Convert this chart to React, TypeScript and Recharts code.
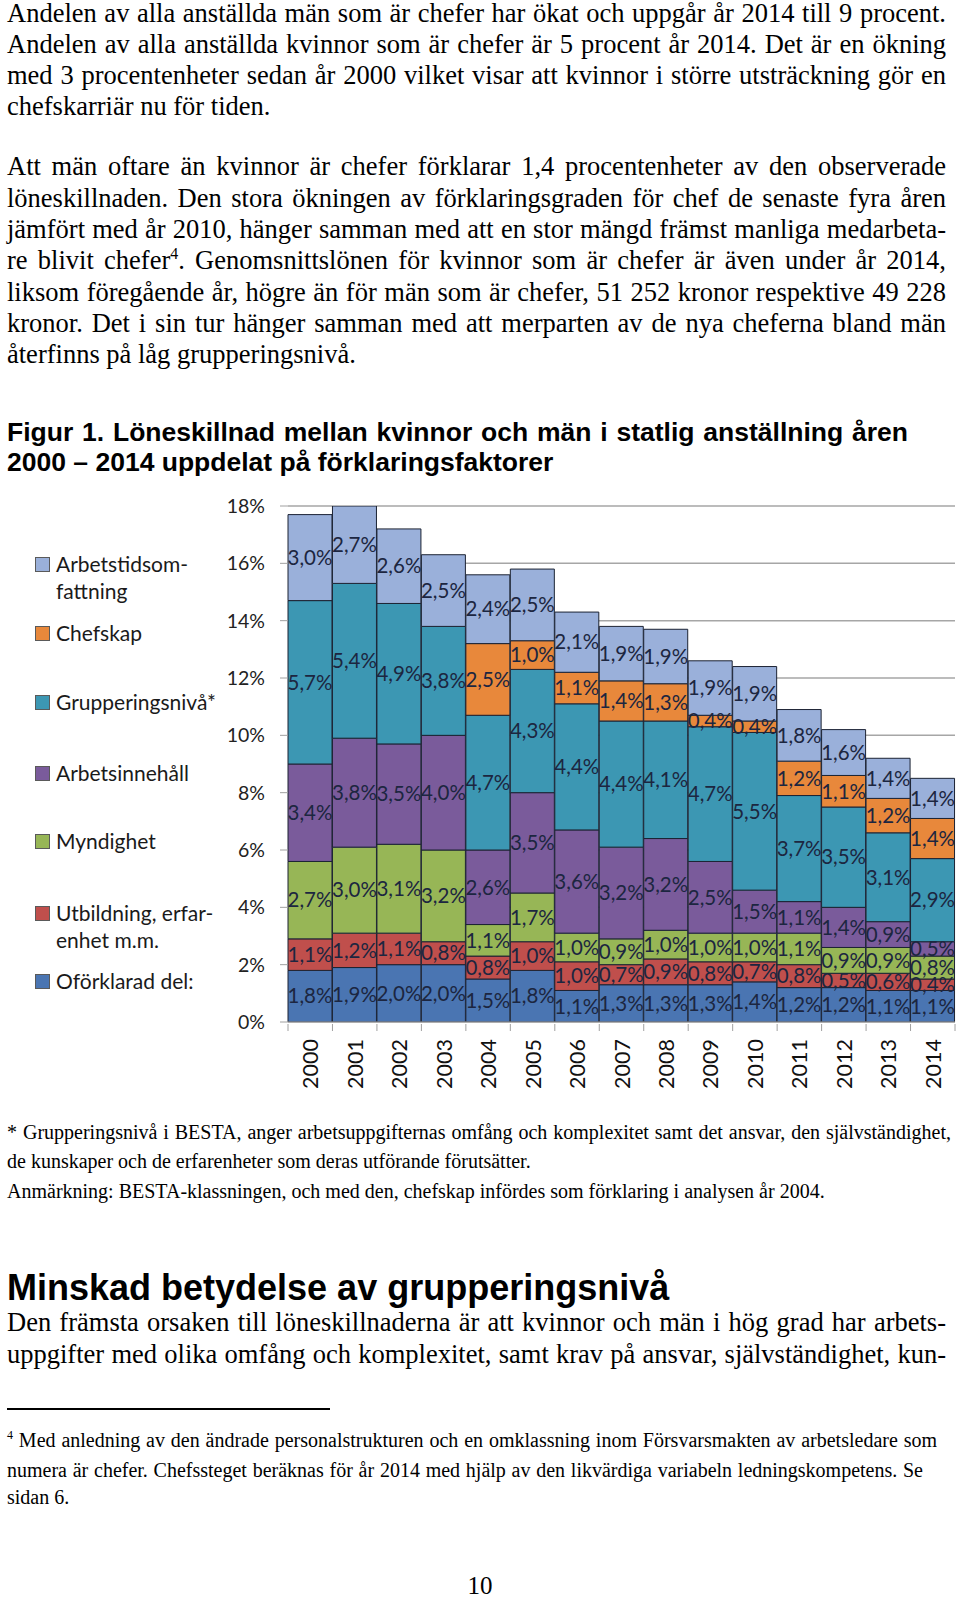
import React from 'react';
import { BarChart, Bar, XAxis, YAxis, CartesianGrid, LabelList } from 'recharts';

// values in procentenheter
const YEARS = ['2000', '2001', '2002', '2003', '2004', '2005', '2006', '2007', '2008', '2009', '2010', '2011', '2012', '2013', '2014'];
const OFORKLARAD = [1.8, 1.9, 2.0, 2.0, 1.5, 1.8, 1.1, 1.3, 1.3, 1.3, 1.4, 1.2, 1.2, 1.1, 1.1];
const UTBILDNING = [1.1, 1.2, 1.1, 0.8, 0.8, 1.0, 1.0, 0.7, 0.9, 0.8, 0.7, 0.8, 0.5, 0.6, 0.4];
const MYNDIGHET = [2.7, 3.0, 3.1, 3.2, 1.1, 1.7, 1.0, 0.9, 1.0, 1.0, 1.0, 1.1, 0.9, 0.9, 0.8];
const ARBETSINNEHALL = [3.4, 3.8, 3.5, 4.0, 2.6, 3.5, 3.6, 3.2, 3.2, 2.5, 1.5, 1.1, 1.4, 0.9, 0.5];
const GRUPPERING = [5.7, 5.4, 4.9, 3.8, 4.7, 4.3, 4.4, 4.4, 4.1, 4.7, 5.5, 3.7, 3.5, 3.1, 2.9];
const CHEFSKAP = [null, null, null, null, 2.5, 1.0, 1.1, 1.4, 1.3, 0.4, 0.4, 1.2, 1.1, 1.2, 1.4];
const ARBETSTID = [3.0, 2.7, 2.6, 2.5, 2.4, 2.5, 2.1, 1.9, 1.9, 1.9, 1.9, 1.8, 1.6, 1.4, 1.4];
const Y_TICKS = [0, 2, 4, 6, 8, 10, 12, 14, 16, 18];

// stacking order, bottom to top
const SERIES_KEYS = ['oforklarad', 'utbildning', 'myndighet', 'arbetsinnehall', 'gruppering', 'chefskap', 'arbetstid'];
const SERIES_VALUES = [OFORKLARAD, UTBILDNING, MYNDIGHET, ARBETSINNEHALL, GRUPPERING, CHEFSKAP, ARBETSTID];

// legend, top to bottom
const LEGEND_KEYS = ['arbetstid', 'chefskap', 'gruppering', 'arbetsinnehall', 'myndighet', 'utbildning', 'oforklarad'];
const LEGEND_LABELS = [
  ['Arbetstidsom-', 'fattning'],
  ['Chefskap'],
  ['Grupperingsnivå*'],
  ['Arbetsinnehåll'],
  ['Myndighet'],
  ['Utbildning, erfar-', 'enhet m.m.'],
  ['Oförklarad del:'],
];

const COLORS: Record<string, string> = {
  oforklarad: '#4a75b2',
  utbildning: '#c04f4c',
  myndighet: '#97b656',
  arbetsinnehall: '#7a5b9b',
  gruppering: '#3c97b3',
  chefskap: '#e8883b',
  arbetstid: '#9ab0da',
};

const data = YEARS.map((year, i) => {
  const row: Record<string, any> = { year };
  SERIES_KEYS.forEach((k, j) => {
    row[k] = SERIES_VALUES[j][i];
  });
  return row;
});

// layout
const CHART_TOP = 480;
const CHART_W = 960;
const CHART_H = 620;
const MARGIN = { top: 26, right: 5, left: 0, bottom: 0 };
const Y_AXIS_W = 288;
const X_AXIS_H = 78;
const HALF_BAND = (CHART_W - MARGIN.left - MARGIN.right - Y_AXIS_W) / YEARS.length / 2;
const LEGEND_CENTERS = [563, 632, 701, 772, 840, 912, 980];

const CHART_FONT = 'Lato, "Open Sans", sans-serif';
const SERIF = '"Liberation Serif", "Times New Roman", serif';
const SANS = '"Liberation Sans", Arial, sans-serif';

const fmt = (v: any) => (v == null ? '' : Number(v).toFixed(1).replace('.', ',') + '%');

function YearTick(props: any) {
  const { x, y, payload, index } = props;
  return (
    <g>
      <line x1={x - HALF_BAND} x2={x - HALF_BAND} y1={y} y2={y + 7} stroke="#a0a0a0" />
      {index === YEARS.length - 1 && (
        <line x1={x + HALF_BAND} x2={x + HALF_BAND} y1={y} y2={y + 7} stroke="#a0a0a0" />
      )}
      <text
        transform={`translate(${x},${y + 15}) rotate(-90)`}
        textAnchor="end"
        dominantBaseline="central"
        fontSize={21.5}
        fontFamily={CHART_FONT}
        fill="#111"
      >
        {payload.value}
      </text>
    </g>
  );
}

function TextLine({ base, size, text, justify, sans, bold, left = 7, width = 939, center }: any) {
  const asc = sans ? 0.8465 : 0.8375;
  return (
    <div
      style={{
        position: 'absolute',
        left: center ? 0 : left,
        top: base - asc * size,
        width: center ? 960 : justify ? width : undefined,
        fontFamily: sans ? SANS : SERIF,
        fontWeight: bold ? 'bold' : 'normal',
        fontSize: size,
        lineHeight: 1,
        textAlign: center ? 'center' : 'justify',
        textAlignLast: center ? 'center' : justify ? 'justify' : 'left',
        color: '#000',
      }}
    >
      {text}
    </div>
  );
}

const sup = (n: string) => (
  <span style={{ fontSize: '0.6em', verticalAlign: 'super', lineHeight: 0 }}>{n}</span>
);

export default function App() {
  const body = 26.5;
  const small = 20;
  return (
    <div
      style={{
        position: 'absolute',
        left: 0,
        top: 0,
        width: 960,
        height: 1600,
        overflow: 'hidden',
        background: '#fff',
      }}
    >
      <TextLine base={22.5} size={body} justify text="Andelen av alla anställda män som är chefer har ökat och uppgår år 2014 till 9 procent." />
      <TextLine base={53.5} size={body} justify text="Andelen av alla anställda kvinnor som är chefer är 5 procent år 2014. Det är en ökning" />
      <TextLine base={84.5} size={body} justify text="med 3 procentenheter sedan år 2000 vilket visar att kvinnor i större utsträckning gör en" />
      <TextLine base={115.5} size={body} text="chefskarriär nu för tiden." />

      <TextLine base={175.5} size={body} justify text="Att män oftare än kvinnor är chefer förklarar 1,4 procentenheter av den observerade" />
      <TextLine base={206.8} size={body} justify text="löneskillnaden. Den stora ökningen av förklaringsgraden för chef de senaste fyra åren" />
      <TextLine base={238.1} size={body} justify text="jämfört med år 2010, hänger samman med att en stor mängd främst manliga medarbeta-" />
      <TextLine
        base={269.4}
        size={body}
        justify
        text={<>re blivit chefer{sup('4')}. Genomsnittslönen för kvinnor som är chefer är även under år 2014,</>}
      />
      <TextLine base={300.7} size={body} justify text="liksom föregående år, högre än för män som är chefer, 51 252 kronor respektive 49 228" />
      <TextLine base={332} size={body} justify text="kronor. Det i sin tur hänger samman med att merparten av de nya cheferna bland män" />
      <TextLine base={363.3} size={body} text="återfinns på låg grupperingsnivå." />

      <TextLine base={441} size={26.5} sans bold width={901} justify text="Figur 1. Löneskillnad mellan kvinnor och män i statlig anställning åren" />
      <TextLine base={471.5} size={26.5} sans bold text="2000 – 2014 uppdelat på förklaringsfaktorer" />

      {/* legend */}
      {LEGEND_KEYS.map((k, i) => (
        <div
          key={k}
          style={{
            position: 'absolute',
            left: 35,
            top: LEGEND_CENTERS[i] - 13.5,
            display: 'flex',
            alignItems: 'flex-start',
            fontFamily: CHART_FONT,
            fontSize: 21,
            lineHeight: '27px',
            color: '#1a1a1a',
          }}
        >
          <div
            style={{
              width: 13,
              height: 13,
              marginTop: 7,
              marginRight: 6,
              background: COLORS[k],
              border: '1px solid #5a5a5a',
            }}
          />
          <div>
            {LEGEND_LABELS[i].map((t) => (
              <div key={t}>{t}</div>
            ))}
          </div>
        </div>
      ))}

      <div style={{ position: 'absolute', left: 0, top: CHART_TOP }}>
        <BarChart width={CHART_W} height={CHART_H} data={data} margin={MARGIN} barCategoryGap={0} barGap={0}>
          <CartesianGrid vertical={false} stroke="#a6a6a6" strokeWidth={1.5} />
          <XAxis
            dataKey="year"
            height={X_AXIS_H}
            interval={0}
            tickSize={0}
            tickLine={false}
            axisLine={{ stroke: '#a0a0a0' }}
            tick={<YearTick />}
          />
          <YAxis
            width={Y_AXIS_W}
            domain={[0, 18]}
            ticks={Y_TICKS}
            allowDataOverflow
            tickFormatter={(v: number) => `${v}%`}
            tickSize={8}
            tickMargin={15}
            axisLine={false}
            tickLine={{ stroke: '#a0a0a0' }}
            tick={{ fontSize: 19.5, fontFamily: CHART_FONT, fill: '#222' }}
          />
          {SERIES_KEYS.map((k) => (
            <Bar key={k} dataKey={k} stackId="a" fill={COLORS[k]} stroke="#1c2333" strokeWidth={1} isAnimationActive={false}>
              <LabelList
                dataKey={k}
                position="center"
                formatter={fmt}
                fill="#1c2640"
                fontSize={20.5}
                fontFamily={CHART_FONT}
              />
            </Bar>
          ))}
        </BarChart>
      </div>

      <TextLine base={1138.5} size={small} left={7} width={944} justify text="* Grupperingsnivå i BESTA, anger arbetsuppgifternas omfång och komplexitet samt det ansvar, den självständighet," />
      <TextLine base={1168} size={small} text="de kunskaper och de erfarenheter som deras utförande förutsätter." />
      <TextLine base={1197.5} size={small} text="Anmärkning: BESTA-klassningen, och med den, chefskap infördes som förklaring i analysen år 2004." />

      <TextLine base={1300} size={36} sans bold text="Minskad betydelse av grupperingsnivå" />
      <TextLine base={1331.5} size={body} justify width={939} text="Den främsta orsaken till löneskillnaderna är att kvinnor och män i hög grad har arbets-" />
      <TextLine base={1363} size={body} justify width={939} text="uppgifter med olika omfång och komplexitet, samt krav på ansvar, självständighet, kun-" />

      <div style={{ position: 'absolute', left: 7, top: 1408, width: 323, height: 1.5, background: '#000' }} />

      <TextLine base={1447} size={small} justify width={930} text={<>{sup('4')} Med anledning av den ändrade personalstrukturen och en omklassning inom Försvarsmakten av arbetsledare som</>} />
      <TextLine base={1476.5} size={small} justify width={916} text="numera är chefer. Chefssteget beräknas för år 2014 med hjälp av den likvärdiga variabeln ledningskompetens. Se" />
      <TextLine base={1504} size={small} text="sidan 6." />

      <TextLine base={1594} size={25} center text="10" />
    </div>
  );
}
